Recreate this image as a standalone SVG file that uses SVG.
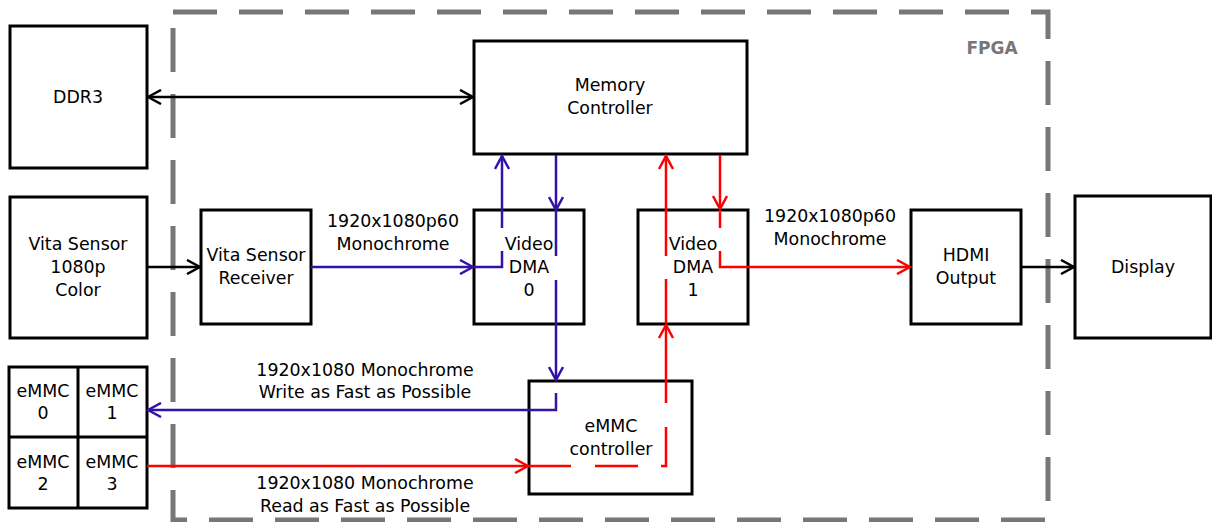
<svg xmlns="http://www.w3.org/2000/svg" width="1212" height="522" viewBox="0 0 1212 522">
<style>
.box{fill:#fff;stroke:#000;stroke-width:3}
.t{font-family:"DejaVu Sans",sans-serif;font-size:17.4px;fill:#000;text-anchor:middle}
.k{fill:none;stroke:#000;stroke-width:2.5}
.b{fill:none;stroke:#3212a8;stroke-width:2.5}
.r{fill:none;stroke:#ff0000;stroke-width:2.5}
</style>
<defs>
<marker id="ak" viewBox="0 0 16 16" refX="14" refY="8" markerWidth="16" markerHeight="16" markerUnits="userSpaceOnUse" orient="auto-start-reverse"><path d="M1,1 L14,8 L1,15" fill="none" stroke="#000" stroke-width="2.5"/></marker>
<marker id="ab" viewBox="0 0 16 16" refX="14" refY="8" markerWidth="16" markerHeight="16" markerUnits="userSpaceOnUse" orient="auto-start-reverse"><path d="M1,1 L14,8 L1,15" fill="none" stroke="#3212a8" stroke-width="2.5"/></marker>
<marker id="ar" viewBox="0 0 16 16" refX="14" refY="8" markerWidth="16" markerHeight="16" markerUnits="userSpaceOnUse" orient="auto-start-reverse"><path d="M1,1 L14,8 L1,15" fill="none" stroke="#ff0000" stroke-width="2.5"/></marker>
</defs>
<rect width="1212" height="522" fill="#fff"/>
<g id="fpga">
<rect x="173" y="12" width="875" height="508" fill="none" stroke="#777" stroke-width="5" stroke-dasharray="44 22"/>
<text x="992" y="54" style="font-family:'DejaVu Sans',sans-serif;font-size:17px;font-weight:bold;fill:#777;text-anchor:middle">FPGA</text>
</g>
<g id="ddr3"><rect class="box" x="10" y="26" width="137" height="142"/><text class="t" x="78" y="103">DDR3</text></g>
<g id="memctrl"><rect class="box" x="474" y="41" width="273" height="113"/><text class="t" x="610" y="91">Memory</text><text class="t" x="610" y="114">Controller</text></g>
<g id="vitasensor"><rect class="box" x="10" y="197" width="137" height="141"/><text class="t" x="78" y="250">Vita Sensor</text><text class="t" x="78" y="273">1080p</text><text class="t" x="78" y="296">Color</text></g>
<g id="receiver"><rect class="box" x="201" y="210" width="110" height="114"/><text class="t" x="256" y="261">Vita Sensor</text><text class="t" x="256" y="284">Receiver</text></g>
<g id="dma0"><rect class="box" x="474" y="210" width="110" height="114"/><text class="t" x="529" y="250">Video</text><text class="t" x="529" y="273">DMA</text><text class="t" x="529" y="296">0</text></g>
<g id="dma1"><rect class="box" x="638" y="210" width="110" height="114"/><text class="t" x="693" y="250">Video</text><text class="t" x="693" y="273">DMA</text><text class="t" x="693" y="296">1</text></g>
<g id="hdmi"><rect class="box" x="911" y="210" width="110" height="114"/><text class="t" x="966" y="261">HDMI</text><text class="t" x="966" y="284">Output</text></g>
<g id="display"><rect class="box" x="1075" y="196" width="136" height="142"/><text class="t" x="1143" y="273">Display</text></g>
<g id="emmc">
<rect class="box" x="9" y="367" width="138" height="141"/>
<line x1="78" y1="367" x2="78" y2="508" stroke="#000" stroke-width="3"/>
<line x1="9" y1="437" x2="147" y2="437" stroke="#000" stroke-width="3"/>
<text class="t" x="43" y="397">eMMC</text><text class="t" x="43" y="419">0</text>
<text class="t" x="112" y="397">eMMC</text><text class="t" x="112" y="419">1</text>
<text class="t" x="43" y="468">eMMC</text><text class="t" x="43" y="490">2</text>
<text class="t" x="112" y="468">eMMC</text><text class="t" x="112" y="490">3</text>
</g>
<g id="emmcctrl"><rect class="box" x="529" y="381" width="163" height="113"/><text class="t" x="611" y="432">eMMC</text><text class="t" x="611" y="455">controller</text></g>
<g id="connectors">
<path class="k" d="M148,97 H473" marker-start="url(#ak)" marker-end="url(#ak)"/>
<path class="k" d="M147,267 H200" marker-end="url(#ak)"/>
<path class="k" d="M1021,267 H1074" marker-end="url(#ak)"/>
<path class="b" d="M311,267 H473" marker-end="url(#ab)"/>
<path class="b" d="M474,267 H502 V251"/>
<path class="b" d="M502,228 V156" marker-end="url(#ab)"/>
<path class="b" d="M556,155 V210" marker-end="url(#ab)"/>
<path class="b" d="M556,210 V256"/>
<path class="b" d="M556,280 V380" marker-end="url(#ab)"/>
<path class="b" d="M556,393 V410 H148" marker-end="url(#ab)"/>
<path class="r" d="M147,466 H528" marker-end="url(#ar)"/>
<path class="r" d="M528,466 H571 M595,466 H638 M661,466 H666 V427"/>
<path class="r" d="M666,403 V325" marker-end="url(#ar)"/>
<path class="r" d="M666,323 V279"/>
<path class="r" d="M666,256 V156" marker-end="url(#ar)"/>
<path class="r" d="M720,155 V209" marker-end="url(#ar)"/>
<path class="r" d="M720,212 V228"/>
<path class="r" d="M720,251 V267 H910" marker-end="url(#ar)"/>
</g>
<g id="labels">
<text class="t" x="393" y="227">1920x1080p60</text><text class="t" x="393" y="250">Monochrome</text>
<text class="t" x="830" y="222">1920x1080p60</text><text class="t" x="830" y="245">Monochrome</text>
<text class="t" x="365" y="376">1920x1080 Monochrome</text><text class="t" x="365" y="398">Write as Fast as Possible</text>
<text class="t" x="365" y="489">1920x1080 Monochrome</text><text class="t" x="365" y="512">Read as Fast as Possible</text>
</g>
</svg>
